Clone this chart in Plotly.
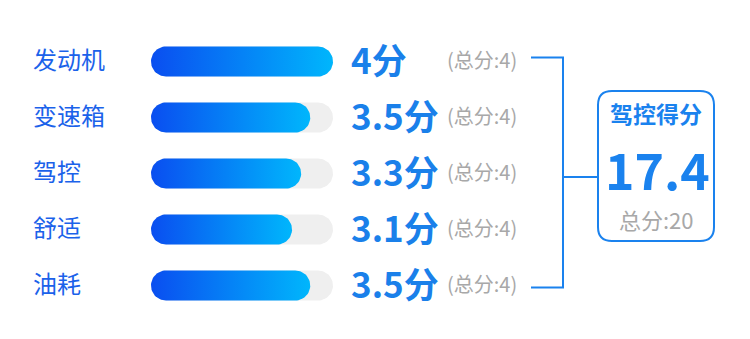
import numpy as np
import plotly.graph_objects as go

categories = ["发动机", "变速箱", "驾控", "舒适", "油耗"]
scores = [4, 3.5, 3.3, 3.1, 3.5]
max_score = 4
total_label = "驾控得分"
total_score = 17.4
total_max = 20

FONT = "Noto Sans CJK SC"
W, H = 750, 339
X0, XLEN = 151, 182          # track left px and px length of max_score
ROW0, ROWSTEP = 61.5, 56     # row center px and step
PXU = XLEN / max_score       # px per score unit
R = 15                       # half bar height, px

fig = go.Figure()

def capsule(v, row):
    rx = R / PXU
    ry = R / ROWSTEP
    t = np.linspace(-np.pi / 2, np.pi / 2, 30)
    xr = (v - rx) + rx * np.cos(t)
    yr = row + ry * np.sin(t)
    t2 = np.linspace(np.pi / 2, 3 * np.pi / 2, 30)
    xl = rx + rx * np.cos(t2)
    yl = row + ry * np.sin(t2)
    xs = np.concatenate([xr, xl, xr[:1]])
    ys = np.concatenate([yr, yl, yr[:1]])
    return xs, ys

for i, (c, v) in enumerate(zip(categories, scores)):
    xs, ys = capsule(max_score, i)
    fig.add_trace(go.Scatter(x=xs, y=ys, fill="toself", fillcolor="#efefef",
                             mode="lines", line=dict(width=0), hoverinfo="skip",
                             showlegend=False))
    xs, ys = capsule(v, i)
    fig.add_trace(go.Scatter(x=xs, y=ys, fill="toself", mode="lines",
                             line=dict(width=0), hoverinfo="skip", showlegend=False,
                             fillgradient=dict(type="horizontal",
                                               colorscale=[[0, "#0a4ef0"], [1, "#00b6fc"]])))
    fig.add_annotation(x=31, xref="x2", y=i, yref="y", text=c, showarrow=False,
                       xanchor="left", yanchor="middle", yshift=3,
                       font=dict(family=FONT, size=24, color="#1b62ea"))
    s = f"{v:g}分"
    fig.add_annotation(x=349, xref="x2", y=i, yref="y", text=f"<b>{s}</b>", showarrow=False,
                       xanchor="left", yanchor="middle", yshift=3,
                       font=dict(family=FONT, size=35, color="#1a80ea"))
    fig.add_annotation(x=445, xref="x2", y=i, yref="y", text=f"(总分:{max_score:g})",
                       showarrow=False, xanchor="left", yanchor="middle", yshift=2,
                       font=dict(family=FONT, size=20, color="#a8a8a8"))

# bracket and box (pixel axes)
blue = "#1a82ee"
top_y, bot_y, mid_y = 57.5, 287.5, 177
shapes = [
    dict(type="path", path=f"M531,{top_y} L563,{top_y} L563,{bot_y} L531,{bot_y}",
         line=dict(color=blue, width=2), xref="x2", yref="y2"),
    dict(type="line", x0=563, x1=598, y0=mid_y, y1=mid_y, line=dict(color=blue, width=2),
         xref="x2", yref="y2"),
]
bx0, bx1, by0, by1, r = 598, 714, 91, 241, 14
path = (f"M{bx0 + r},{by0} L{bx1 - r},{by0} Q{bx1},{by0} {bx1},{by0 + r} "
        f"L{bx1},{by1 - r} Q{bx1},{by1} {bx1 - r},{by1} L{bx0 + r},{by1} "
        f"Q{bx0},{by1} {bx0},{by1 - r} L{bx0},{by0 + r} Q{bx0},{by0} {bx0 + r},{by0} Z")
shapes.append(dict(type="path", path=path, line=dict(color=blue, width=2),
                   fillcolor="white", xref="x2", yref="y2"))
fig.update_layout(shapes=shapes)

cx = (bx0 + bx1) / 2
fig.add_annotation(x=cx, y=113, xref="x2", yref="y2", text=f"<b>{total_label}</b>",
                   showarrow=False, borderpad=0, font=dict(family=FONT, size=23, color=blue))
fig.add_annotation(x=cx + 1, y=168, xref="x2", yref="y2", text=f"<b>{total_score:g}</b>",
                   showarrow=False, borderpad=0, font=dict(family=FONT, size=50, color=blue))
fig.add_annotation(x=cx, y=219, xref="x2", yref="y2", text=f"总分:{total_max}",
                   showarrow=False, borderpad=0, font=dict(family=FONT, size=22, color="#a8a8a8"))

fig.update_layout(
    width=W, height=H, margin=dict(l=0, r=0, t=0, b=0),
    paper_bgcolor="white", plot_bgcolor="white",
    xaxis=dict(range=[-X0 / PXU, (W - X0) / PXU], visible=False, fixedrange=True),
    yaxis=dict(range=[(H - ROW0) / ROWSTEP, -ROW0 / ROWSTEP], visible=False, fixedrange=True),
    xaxis2=dict(range=[0, W], visible=False, overlaying="x", fixedrange=True),
    yaxis2=dict(range=[H, 0], visible=False, overlaying="y", fixedrange=True),
    showlegend=False,
)
# dummy trace so the pixel axes exist
fig.add_trace(go.Scatter(x=[0], y=[0], xaxis="x2", yaxis="y2", mode="markers",
                         marker=dict(opacity=0), hoverinfo="skip", showlegend=False))

fig.write_html("out.html")
